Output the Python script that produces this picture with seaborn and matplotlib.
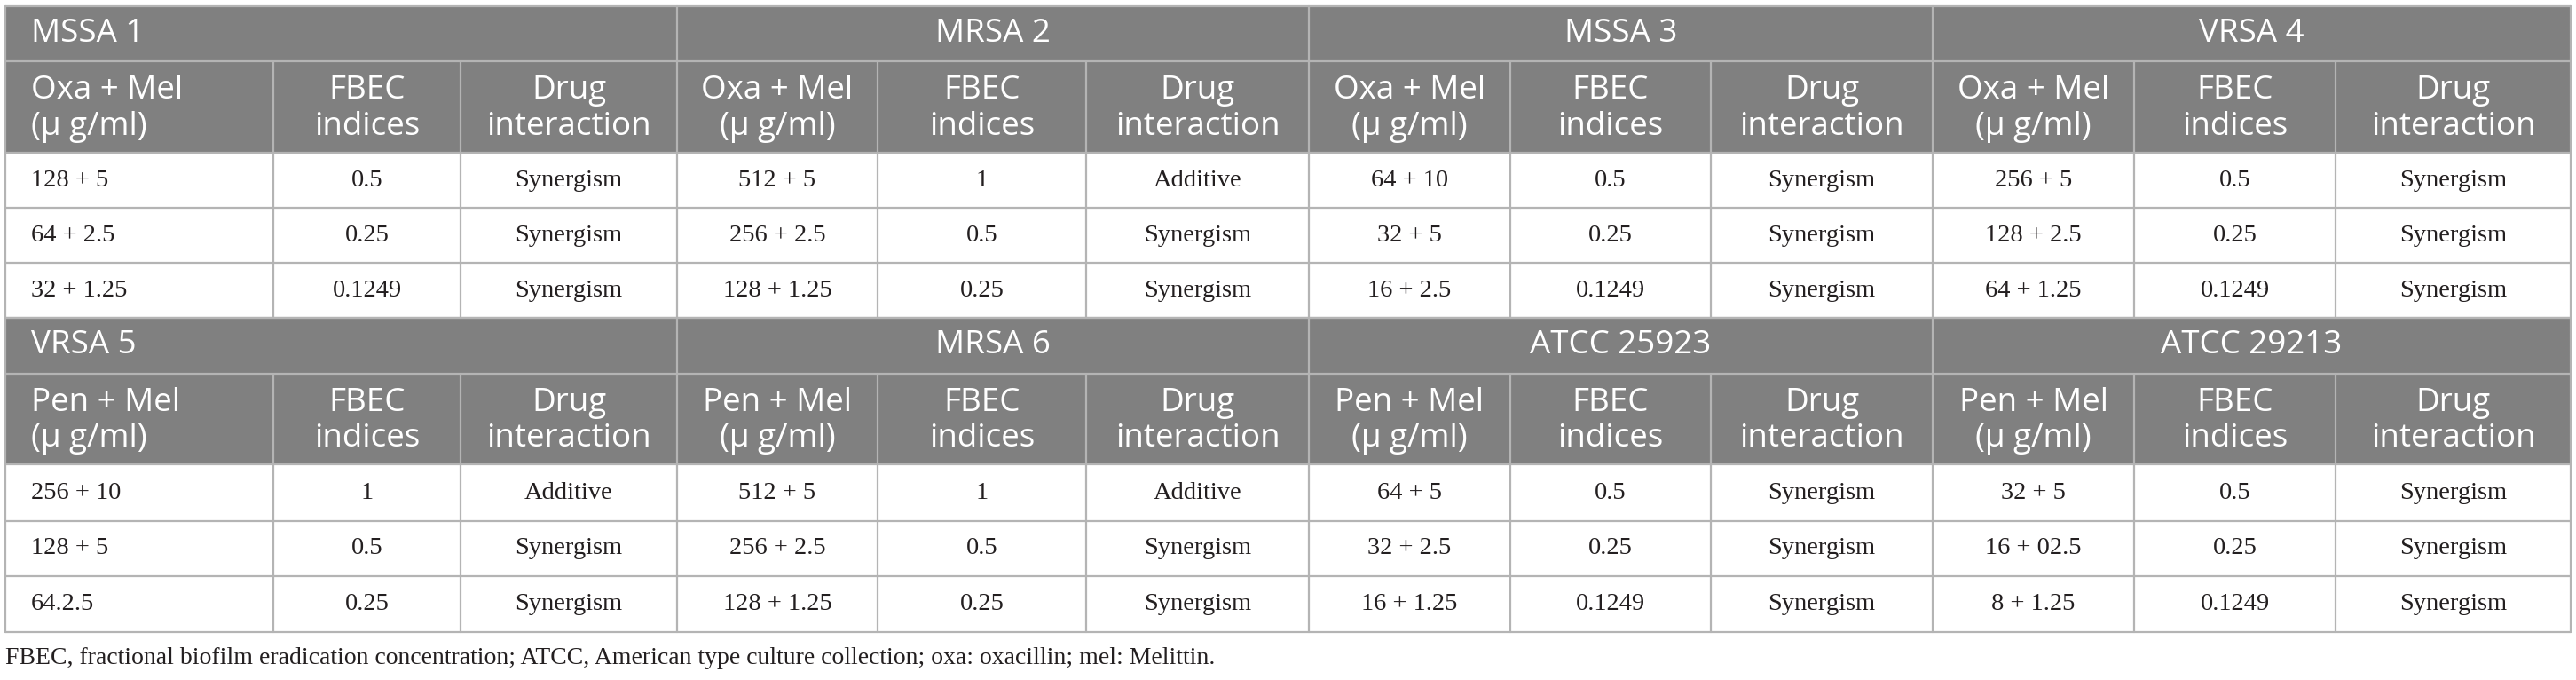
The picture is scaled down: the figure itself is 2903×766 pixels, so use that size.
import matplotlib
matplotlib.use("Agg")
import matplotlib.pyplot as plt
from matplotlib.patches import Rectangle
import seaborn as sns

# -------------------------
# DATA
# -------------------------
groups_top = ["MSSA 1", "MRSA 2", "MSSA 3", "VRSA 4"]
groups_bottom = ["VRSA 5", "MRSA 6", "ATCC 25923", "ATCC 29213"]

sub_top = ["Oxa + Mel\n(\u03bc g/ml)", "FBEC\nindices", "Drug\ninteraction"]
sub_bottom = ["Pen + Mel\n(\u03bc g/ml)", "FBEC\nindices", "Drug\ninteraction"]

conc_top = [
    ["128 + 5", "64 + 2.5", "32 + 1.25"],
    ["512 + 5", "256 + 2.5", "128 + 1.25"],
    ["64 + 10", "32 + 5", "16 + 2.5"],
    ["256 + 5", "128 + 2.5", "64 + 1.25"],
]
fbec_top = [
    ["0.5", "0.25", "0.1249"],
    ["1", "0.5", "0.25"],
    ["0.5", "0.25", "0.1249"],
    ["0.5", "0.25", "0.1249"],
]
inter_top = [
    ["Synergism", "Synergism", "Synergism"],
    ["Additive", "Synergism", "Synergism"],
    ["Synergism", "Synergism", "Synergism"],
    ["Synergism", "Synergism", "Synergism"],
]

conc_bottom = [
    ["256 + 10", "128 + 5", "64.2.5"],
    ["512 + 5", "256 + 2.5", "128 + 1.25"],
    ["64 + 5", "32 + 2.5", "16 + 1.25"],
    ["32 + 5", "16 + 02.5", "8 + 1.25"],
]
fbec_bottom = [
    ["1", "0.5", "0.25"],
    ["1", "0.5", "0.25"],
    ["0.5", "0.25", "0.1249"],
    ["0.5", "0.25", "0.1249"],
]
inter_bottom = [
    ["Additive", "Synergism", "Synergism"],
    ["Additive", "Synergism", "Synergism"],
    ["Synergism", "Synergism", "Synergism"],
    ["Synergism", "Synergism", "Synergism"],
]

footnote = ("FBEC, fractional biofilm eradication concentration; ATCC, American type "
            "culture collection; oxa: oxacillin; mel: Melittin.")

# -------------------------
# LAYOUT (pixels)
# -------------------------
col_x = [6, 308, 519, 763, 989, 1224, 1475, 1702, 1928, 2178, 2405, 2632, 2897]
block_top_y = [7, 69, 172, 234, 296, 358]
block_bottom_y = [358, 421, 523, 587, 649, 712]

head_bg = "#808080"
line_c = "#b4b4b4"
text_c = "#231f20"
sans = ["Open Sans", "DejaVu Sans"]
serif = ["Liberation Serif", "DejaVu Serif"]
pad = 29

sns.set_theme(style="white")
plt.rcParams["font.family"] = sans

fig = plt.figure(figsize=(29.03, 7.66), dpi=100)
ax = fig.add_axes([0, 0, 1, 1])
ax.set_xlim(0, 2903)
ax.set_ylim(766, 0)
ax.axis("off")


def draw_block(ys, groups, subs, conc, fbec, inter):
    x0, x1 = col_x[0], col_x[-1]
    # header background
    ax.add_patch(Rectangle((x0, ys[0]), x1 - x0, ys[2] - ys[0],
                           facecolor=head_bg, edgecolor="none", zorder=1))
    # horizontal lines
    for y in ys:
        ax.plot([x0, x1], [y, y], color=line_c, lw=1.6, zorder=3)
    # vertical lines (group borders run through the title row)
    for i, x in enumerate(col_x):
        y_start = ys[0] if i % 3 == 0 else ys[1]
        ax.plot([x, x], [y_start, ys[-1]], color=line_c, lw=1.6, zorder=3)

    for g in range(4):
        gl, gr = col_x[g * 3], col_x[g * 3 + 3]
        yc = (ys[0] + ys[1]) / 2
        if g == 0:
            ax.text(gl + pad, yc, groups[g], color="white", fontsize=26.5,
                    ha="left", va="center", family=sans, zorder=4)
        else:
            ax.text((gl + gr) / 2, yc, groups[g], color="white", fontsize=26.5,
                    ha="center", va="center", family=sans, zorder=4)
        cols = [conc[g], fbec[g], inter[g]]
        for c in range(3):
            cl, cr = col_x[g * 3 + c], col_x[g * 3 + c + 1]
            left = (g == 0 and c == 0)
            tx = cl + pad if left else (cl + cr) / 2
            ha = "left" if left else "center"
            ax.text(tx, (ys[1] + ys[2]) / 2 + 2, subs[c], color="white",
                    fontsize=26.5, ha=ha, va="center", linespacing=1.15,
                    multialignment=ha, family=sans, zorder=4)
            for r in range(3):
                ax.text(tx, (ys[2 + r] + ys[3 + r]) / 2, cols[c][r],
                        color=text_c, fontsize=20.5, ha=ha, va="center",
                        family=serif, zorder=4)


draw_block(block_top_y, groups_top, sub_top, conc_top, fbec_top, inter_top)
draw_block(block_bottom_y, groups_bottom, sub_bottom, conc_bottom, fbec_bottom, inter_bottom)

ax.text(6, 742, footnote, color=text_c, fontsize=20, ha="left", va="center",
        family=serif)

fig.savefig("out.png", dpi=100, facecolor="white")
